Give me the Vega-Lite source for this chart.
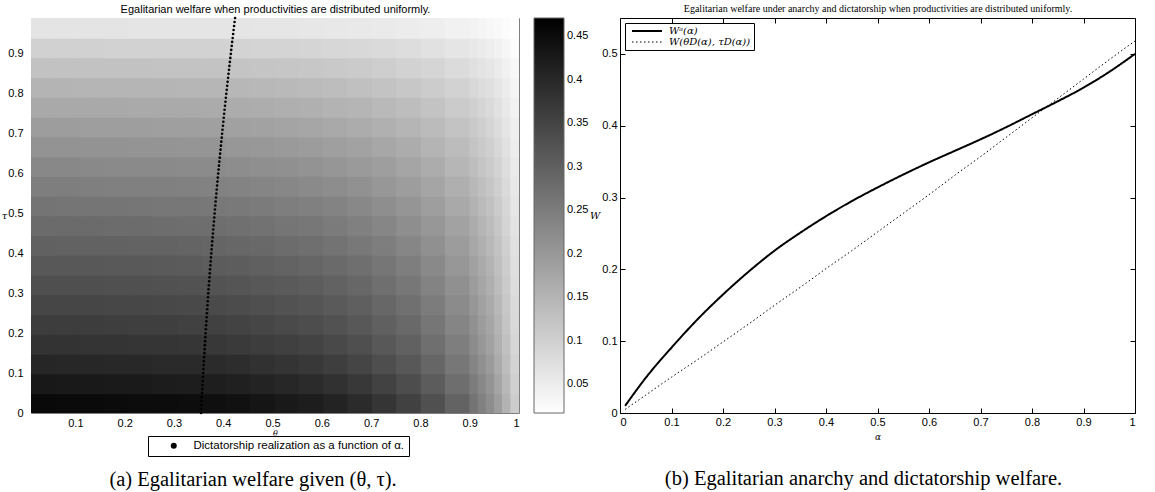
{
"$schema":"https://vega.github.io/schema/vega-lite/v6.json",
"background":"white",
"padding":{"left":0,"top":2,"right":0,"bottom":0},
"bounds":"flush",
"spacing":101,
"resolve":{"scale":{"color":"independent","shape":"independent","strokeDash":"independent","strokeWidth":"independent"},"legend":{"color":"independent","shape":"independent","strokeDash":"independent","strokeWidth":"independent"}},
"config":{"view":{"stroke":null},"axis":{"labelFont":"Liberation Sans","labelFontSize":11,"labelColor":"black","grid":false,"domain":false,"tickColor":"black"},"legend":{"labelFont":"Liberation Sans","labelColor":"black","labelLimit":400}},
"datasets":{
"hc":[
{"t":0.035,"u":0.025,"w":0.455},{"t":0.084,"u":0.025,"w":0.454},{"t":0.134,"u":0.025,"w":0.453},{"t":0.183,"u":0.025,"w":0.452},{"t":0.233,"u":0.025,"w":0.450},{"t":0.282,"u":0.025,"w":0.449},{"t":0.332,"u":0.025,"w":0.447},{"t":0.381,"u":0.025,"w":0.445},{"t":0.431,"u":0.025,"w":0.440},{"t":0.480,"u":0.025,"w":0.434},{"t":0.530,"u":0.025,"w":0.426},{"t":0.579,"u":0.025,"w":0.419},{"t":0.629,"u":0.025,"w":0.408},{"t":0.678,"u":0.025,"w":0.394},{"t":0.728,"u":0.025,"w":0.376},{"t":0.777,"u":0.025,"w":0.355},{"t":0.827,"u":0.025,"w":0.328},{"t":0.876,"u":0.025,"w":0.294},
{"t":0.035,"u":0.074,"w":0.428},{"t":0.084,"u":0.074,"w":0.427},{"t":0.134,"u":0.074,"w":0.426},{"t":0.183,"u":0.074,"w":0.425},{"t":0.233,"u":0.074,"w":0.424},{"t":0.282,"u":0.074,"w":0.422},{"t":0.332,"u":0.074,"w":0.420},{"t":0.381,"u":0.074,"w":0.418},{"t":0.431,"u":0.074,"w":0.414},{"t":0.480,"u":0.074,"w":0.408},{"t":0.530,"u":0.074,"w":0.401},{"t":0.579,"u":0.074,"w":0.394},{"t":0.629,"u":0.074,"w":0.383},{"t":0.678,"u":0.074,"w":0.371},{"t":0.728,"u":0.074,"w":0.354},{"t":0.777,"u":0.074,"w":0.334},{"t":0.827,"u":0.074,"w":0.308},{"t":0.876,"u":0.074,"w":0.276},
{"t":0.035,"u":0.124,"w":0.403},{"t":0.084,"u":0.124,"w":0.402},{"t":0.134,"u":0.124,"w":0.401},{"t":0.183,"u":0.124,"w":0.400},{"t":0.233,"u":0.124,"w":0.399},{"t":0.282,"u":0.124,"w":0.397},{"t":0.332,"u":0.124,"w":0.396},{"t":0.381,"u":0.124,"w":0.394},{"t":0.431,"u":0.124,"w":0.390},{"t":0.480,"u":0.124,"w":0.384},{"t":0.530,"u":0.124,"w":0.378},{"t":0.579,"u":0.124,"w":0.371},{"t":0.629,"u":0.124,"w":0.361},{"t":0.678,"u":0.124,"w":0.349},{"t":0.728,"u":0.124,"w":0.333},{"t":0.777,"u":0.124,"w":0.315},{"t":0.827,"u":0.124,"w":0.290},{"t":0.876,"u":0.124,"w":0.260},
{"t":0.035,"u":0.173,"w":0.381},{"t":0.084,"u":0.173,"w":0.380},{"t":0.134,"u":0.173,"w":0.379},{"t":0.183,"u":0.173,"w":0.378},{"t":0.233,"u":0.173,"w":0.377},{"t":0.282,"u":0.173,"w":0.376},{"t":0.332,"u":0.173,"w":0.374},{"t":0.381,"u":0.173,"w":0.372},{"t":0.431,"u":0.173,"w":0.368},{"t":0.480,"u":0.173,"w":0.363},{"t":0.530,"u":0.173,"w":0.357},{"t":0.579,"u":0.173,"w":0.351},{"t":0.629,"u":0.173,"w":0.341},{"t":0.678,"u":0.173,"w":0.330},{"t":0.728,"u":0.173,"w":0.315},{"t":0.777,"u":0.173,"w":0.298},{"t":0.827,"u":0.173,"w":0.274},{"t":0.876,"u":0.173,"w":0.246},
{"t":0.035,"u":0.223,"w":0.363},{"t":0.084,"u":0.223,"w":0.362},{"t":0.134,"u":0.223,"w":0.362},{"t":0.183,"u":0.223,"w":0.360},{"t":0.233,"u":0.223,"w":0.359},{"t":0.282,"u":0.223,"w":0.358},{"t":0.332,"u":0.223,"w":0.356},{"t":0.381,"u":0.223,"w":0.355},{"t":0.431,"u":0.223,"w":0.351},{"t":0.480,"u":0.223,"w":0.346},{"t":0.530,"u":0.223,"w":0.340},{"t":0.579,"u":0.223,"w":0.334},{"t":0.629,"u":0.223,"w":0.325},{"t":0.678,"u":0.223,"w":0.314},{"t":0.728,"u":0.223,"w":0.300},{"t":0.777,"u":0.223,"w":0.284},{"t":0.827,"u":0.223,"w":0.261},{"t":0.876,"u":0.223,"w":0.234},
{"t":0.035,"u":0.272,"w":0.347},{"t":0.084,"u":0.272,"w":0.346},{"t":0.134,"u":0.272,"w":0.346},{"t":0.183,"u":0.272,"w":0.345},{"t":0.233,"u":0.272,"w":0.344},{"t":0.282,"u":0.272,"w":0.342},{"t":0.332,"u":0.272,"w":0.341},{"t":0.381,"u":0.272,"w":0.339},{"t":0.431,"u":0.272,"w":0.336},{"t":0.480,"u":0.272,"w":0.331},{"t":0.530,"u":0.272,"w":0.325},{"t":0.579,"u":0.272,"w":0.319},{"t":0.629,"u":0.272,"w":0.311},{"t":0.678,"u":0.272,"w":0.301},{"t":0.728,"u":0.272,"w":0.287},{"t":0.777,"u":0.272,"w":0.271},{"t":0.827,"u":0.272,"w":0.250},{"t":0.876,"u":0.272,"w":0.224},
{"t":0.035,"u":0.322,"w":0.331},{"t":0.084,"u":0.322,"w":0.330},{"t":0.134,"u":0.322,"w":0.330},{"t":0.183,"u":0.322,"w":0.329},{"t":0.233,"u":0.322,"w":0.328},{"t":0.282,"u":0.322,"w":0.326},{"t":0.332,"u":0.322,"w":0.325},{"t":0.381,"u":0.322,"w":0.323},{"t":0.431,"u":0.322,"w":0.320},{"t":0.480,"u":0.322,"w":0.315},{"t":0.530,"u":0.322,"w":0.310},{"t":0.579,"u":0.322,"w":0.305},{"t":0.629,"u":0.322,"w":0.297},{"t":0.678,"u":0.322,"w":0.287},{"t":0.728,"u":0.322,"w":0.274},{"t":0.777,"u":0.322,"w":0.259},{"t":0.827,"u":0.322,"w":0.238},{"t":0.876,"u":0.322,"w":0.214},
{"t":0.035,"u":0.371,"w":0.315},{"t":0.084,"u":0.371,"w":0.314},{"t":0.134,"u":0.371,"w":0.314},{"t":0.183,"u":0.371,"w":0.313},{"t":0.233,"u":0.371,"w":0.312},{"t":0.282,"u":0.371,"w":0.311},{"t":0.332,"u":0.371,"w":0.309},{"t":0.381,"u":0.371,"w":0.308},{"t":0.431,"u":0.371,"w":0.305},{"t":0.480,"u":0.371,"w":0.300},{"t":0.530,"u":0.371,"w":0.295},{"t":0.579,"u":0.371,"w":0.290},{"t":0.629,"u":0.371,"w":0.282},{"t":0.678,"u":0.371,"w":0.273},{"t":0.728,"u":0.371,"w":0.261},{"t":0.777,"u":0.371,"w":0.246},{"t":0.827,"u":0.371,"w":0.227},{"t":0.876,"u":0.371,"w":0.203},
{"t":0.035,"u":0.421,"w":0.298},{"t":0.084,"u":0.421,"w":0.297},{"t":0.134,"u":0.421,"w":0.297},{"t":0.183,"u":0.421,"w":0.296},{"t":0.233,"u":0.421,"w":0.295},{"t":0.282,"u":0.421,"w":0.294},{"t":0.332,"u":0.421,"w":0.293},{"t":0.381,"u":0.421,"w":0.291},{"t":0.431,"u":0.421,"w":0.288},{"t":0.480,"u":0.421,"w":0.284},{"t":0.530,"u":0.421,"w":0.279},{"t":0.579,"u":0.421,"w":0.274},{"t":0.629,"u":0.421,"w":0.267},{"t":0.678,"u":0.421,"w":0.258},{"t":0.728,"u":0.421,"w":0.246},{"t":0.777,"u":0.421,"w":0.233},{"t":0.827,"u":0.421,"w":0.215},{"t":0.876,"u":0.421,"w":0.193},
{"t":0.035,"u":0.470,"w":0.281},{"t":0.084,"u":0.470,"w":0.280},{"t":0.134,"u":0.470,"w":0.280},{"t":0.183,"u":0.470,"w":0.279},{"t":0.233,"u":0.470,"w":0.278},{"t":0.282,"u":0.470,"w":0.277},{"t":0.332,"u":0.470,"w":0.276},{"t":0.381,"u":0.470,"w":0.275},{"t":0.431,"u":0.470,"w":0.272},{"t":0.480,"u":0.470,"w":0.268},{"t":0.530,"u":0.470,"w":0.263},{"t":0.579,"u":0.470,"w":0.259},{"t":0.629,"u":0.470,"w":0.252},{"t":0.678,"u":0.470,"w":0.243},{"t":0.728,"u":0.470,"w":0.232},{"t":0.777,"u":0.470,"w":0.219},{"t":0.827,"u":0.470,"w":0.202},{"t":0.876,"u":0.470,"w":0.182},
{"t":0.035,"u":0.520,"w":0.264},{"t":0.084,"u":0.520,"w":0.263},{"t":0.134,"u":0.520,"w":0.263},{"t":0.183,"u":0.520,"w":0.262},{"t":0.233,"u":0.520,"w":0.261},{"t":0.282,"u":0.520,"w":0.260},{"t":0.332,"u":0.520,"w":0.259},{"t":0.381,"u":0.520,"w":0.258},{"t":0.431,"u":0.520,"w":0.255},{"t":0.480,"u":0.520,"w":0.252},{"t":0.530,"u":0.520,"w":0.247},{"t":0.579,"u":0.520,"w":0.243},{"t":0.629,"u":0.520,"w":0.237},{"t":0.678,"u":0.520,"w":0.229},{"t":0.728,"u":0.520,"w":0.218},{"t":0.777,"u":0.520,"w":0.206},{"t":0.827,"u":0.520,"w":0.190},{"t":0.876,"u":0.520,"w":0.171},
{"t":0.035,"u":0.569,"w":0.246},{"t":0.084,"u":0.569,"w":0.246},{"t":0.134,"u":0.569,"w":0.245},{"t":0.183,"u":0.569,"w":0.244},{"t":0.233,"u":0.569,"w":0.244},{"t":0.282,"u":0.569,"w":0.243},{"t":0.332,"u":0.569,"w":0.242},{"t":0.381,"u":0.569,"w":0.240},{"t":0.431,"u":0.569,"w":0.238},{"t":0.480,"u":0.569,"w":0.234},{"t":0.530,"u":0.569,"w":0.231},{"t":0.579,"u":0.569,"w":0.226},{"t":0.629,"u":0.569,"w":0.220},{"t":0.678,"u":0.569,"w":0.213},{"t":0.728,"u":0.569,"w":0.203},{"t":0.777,"u":0.569,"w":0.192},{"t":0.827,"u":0.569,"w":0.177},{"t":0.876,"u":0.569,"w":0.159},
{"t":0.035,"u":0.619,"w":0.228},{"t":0.084,"u":0.619,"w":0.228},{"t":0.134,"u":0.619,"w":0.227},{"t":0.183,"u":0.619,"w":0.226},{"t":0.233,"u":0.619,"w":0.226},{"t":0.282,"u":0.619,"w":0.225},{"t":0.332,"u":0.619,"w":0.224},{"t":0.381,"u":0.619,"w":0.223},{"t":0.431,"u":0.619,"w":0.220},{"t":0.480,"u":0.619,"w":0.217},{"t":0.530,"u":0.619,"w":0.214},{"t":0.579,"u":0.619,"w":0.210},{"t":0.629,"u":0.619,"w":0.204},{"t":0.678,"u":0.619,"w":0.197},{"t":0.728,"u":0.619,"w":0.189},{"t":0.777,"u":0.619,"w":0.178},{"t":0.827,"u":0.619,"w":0.164},{"t":0.876,"u":0.619,"w":0.147},
{"t":0.035,"u":0.668,"w":0.210},{"t":0.084,"u":0.668,"w":0.210},{"t":0.134,"u":0.668,"w":0.209},{"t":0.183,"u":0.668,"w":0.209},{"t":0.233,"u":0.668,"w":0.208},{"t":0.282,"u":0.668,"w":0.207},{"t":0.332,"u":0.668,"w":0.206},{"t":0.381,"u":0.668,"w":0.205},{"t":0.431,"u":0.668,"w":0.203},{"t":0.480,"u":0.668,"w":0.200},{"t":0.530,"u":0.668,"w":0.197},{"t":0.579,"u":0.668,"w":0.193},{"t":0.629,"u":0.668,"w":0.188},{"t":0.678,"u":0.668,"w":0.182},{"t":0.728,"u":0.668,"w":0.174},{"t":0.777,"u":0.668,"w":0.164},{"t":0.827,"u":0.668,"w":0.151},{"t":0.876,"u":0.668,"w":0.136},
{"t":0.035,"u":0.718,"w":0.191},{"t":0.084,"u":0.718,"w":0.191},{"t":0.134,"u":0.718,"w":0.190},{"t":0.183,"u":0.718,"w":0.190},{"t":0.233,"u":0.718,"w":0.189},{"t":0.282,"u":0.718,"w":0.188},{"t":0.332,"u":0.718,"w":0.188},{"t":0.381,"u":0.718,"w":0.187},{"t":0.431,"u":0.718,"w":0.185},{"t":0.480,"u":0.718,"w":0.182},{"t":0.530,"u":0.718,"w":0.179},{"t":0.579,"u":0.718,"w":0.176},{"t":0.629,"u":0.718,"w":0.171},{"t":0.678,"u":0.718,"w":0.165},{"t":0.728,"u":0.718,"w":0.158},{"t":0.777,"u":0.718,"w":0.149},{"t":0.827,"u":0.718,"w":0.138},{"t":0.876,"u":0.718,"w":0.123},
{"t":0.035,"u":0.767,"w":0.171},{"t":0.084,"u":0.767,"w":0.171},{"t":0.134,"u":0.767,"w":0.170},{"t":0.183,"u":0.767,"w":0.170},{"t":0.233,"u":0.767,"w":0.169},{"t":0.282,"u":0.767,"w":0.169},{"t":0.332,"u":0.767,"w":0.168},{"t":0.381,"u":0.767,"w":0.167},{"t":0.431,"u":0.767,"w":0.165},{"t":0.480,"u":0.767,"w":0.163},{"t":0.530,"u":0.767,"w":0.160},{"t":0.579,"u":0.767,"w":0.157},{"t":0.629,"u":0.767,"w":0.153},{"t":0.678,"u":0.767,"w":0.148},{"t":0.728,"u":0.767,"w":0.141},{"t":0.777,"u":0.767,"w":0.134},{"t":0.827,"u":0.767,"w":0.123},{"t":0.876,"u":0.767,"w":0.110},
{"t":0.035,"u":0.817,"w":0.150},{"t":0.084,"u":0.817,"w":0.150},{"t":0.134,"u":0.817,"w":0.149},{"t":0.183,"u":0.817,"w":0.149},{"t":0.233,"u":0.817,"w":0.149},{"t":0.282,"u":0.817,"w":0.148},{"t":0.332,"u":0.817,"w":0.147},{"t":0.381,"u":0.817,"w":0.147},{"t":0.431,"u":0.817,"w":0.145},{"t":0.480,"u":0.817,"w":0.143},{"t":0.530,"u":0.817,"w":0.141},{"t":0.579,"u":0.817,"w":0.138},{"t":0.629,"u":0.817,"w":0.134},{"t":0.678,"u":0.817,"w":0.130},{"t":0.728,"u":0.817,"w":0.124},{"t":0.777,"u":0.817,"w":0.117},{"t":0.827,"u":0.817,"w":0.108},{"t":0.876,"u":0.817,"w":0.097},
{"t":0.035,"u":0.866,"w":0.126},{"t":0.084,"u":0.866,"w":0.126},{"t":0.134,"u":0.866,"w":0.126},{"t":0.183,"u":0.866,"w":0.125},{"t":0.233,"u":0.866,"w":0.125},{"t":0.282,"u":0.866,"w":0.124},{"t":0.332,"u":0.866,"w":0.124},{"t":0.381,"u":0.866,"w":0.123},{"t":0.431,"u":0.866,"w":0.122},{"t":0.480,"u":0.866,"w":0.120},{"t":0.530,"u":0.866,"w":0.118},{"t":0.579,"u":0.866,"w":0.116},{"t":0.629,"u":0.866,"w":0.113},{"t":0.678,"u":0.866,"w":0.109},{"t":0.728,"u":0.866,"w":0.104},{"t":0.777,"u":0.866,"w":0.098},{"t":0.827,"u":0.866,"w":0.091},{"t":0.876,"u":0.866,"w":0.081},
{"t":0.035,"u":0.916,"w":0.099},{"t":0.084,"u":0.916,"w":0.099},{"t":0.134,"u":0.916,"w":0.099},{"t":0.183,"u":0.916,"w":0.098},{"t":0.233,"u":0.916,"w":0.098},{"t":0.282,"u":0.916,"w":0.098},{"t":0.332,"u":0.916,"w":0.097},{"t":0.381,"u":0.916,"w":0.097},{"t":0.431,"u":0.916,"w":0.096},{"t":0.480,"u":0.916,"w":0.094},{"t":0.530,"u":0.916,"w":0.093},{"t":0.579,"u":0.916,"w":0.091},{"t":0.629,"u":0.916,"w":0.089},{"t":0.678,"u":0.916,"w":0.086},{"t":0.728,"u":0.916,"w":0.082},{"t":0.777,"u":0.916,"w":0.077},{"t":0.827,"u":0.916,"w":0.071},{"t":0.876,"u":0.916,"w":0.064},
{"t":0.035,"u":0.965,"w":0.065},{"t":0.084,"u":0.965,"w":0.065},{"t":0.134,"u":0.965,"w":0.065},{"t":0.183,"u":0.965,"w":0.065},{"t":0.233,"u":0.965,"w":0.064},{"t":0.282,"u":0.965,"w":0.064},{"t":0.332,"u":0.965,"w":0.064},{"t":0.381,"u":0.965,"w":0.064},{"t":0.431,"u":0.965,"w":0.063},{"t":0.480,"u":0.965,"w":0.062},{"t":0.530,"u":0.965,"w":0.061},{"t":0.579,"u":0.965,"w":0.060},{"t":0.629,"u":0.965,"w":0.058},{"t":0.678,"u":0.965,"w":0.056},{"t":0.728,"u":0.965,"w":0.054},{"t":0.777,"u":0.965,"w":0.051},{"t":0.827,"u":0.965,"w":0.047},{"t":0.876,"u":0.965,"w":0.042}
],
"hf":[
{"t":0.909,"u":0.025,"w":0.265},{"t":0.926,"u":0.025,"w":0.242},{"t":0.942,"u":0.025,"w":0.220},{"t":0.959,"u":0.025,"w":0.189},{"t":0.975,"u":0.025,"w":0.152},{"t":0.992,"u":0.025,"w":0.107},
{"t":0.909,"u":0.074,"w":0.250},{"t":0.926,"u":0.074,"w":0.228},{"t":0.942,"u":0.074,"w":0.207},{"t":0.959,"u":0.074,"w":0.178},{"t":0.975,"u":0.074,"w":0.143},{"t":0.992,"u":0.074,"w":0.101},
{"t":0.909,"u":0.124,"w":0.235},{"t":0.926,"u":0.124,"w":0.214},{"t":0.942,"u":0.124,"w":0.195},{"t":0.959,"u":0.124,"w":0.167},{"t":0.975,"u":0.124,"w":0.135},{"t":0.992,"u":0.124,"w":0.095},
{"t":0.909,"u":0.173,"w":0.222},{"t":0.926,"u":0.173,"w":0.203},{"t":0.942,"u":0.173,"w":0.184},{"t":0.959,"u":0.173,"w":0.158},{"t":0.975,"u":0.173,"w":0.128},{"t":0.992,"u":0.173,"w":0.090},
{"t":0.909,"u":0.223,"w":0.212},{"t":0.926,"u":0.223,"w":0.193},{"t":0.942,"u":0.223,"w":0.176},{"t":0.959,"u":0.223,"w":0.151},{"t":0.975,"u":0.223,"w":0.122},{"t":0.992,"u":0.223,"w":0.085},
{"t":0.909,"u":0.272,"w":0.202},{"t":0.926,"u":0.272,"w":0.185},{"t":0.942,"u":0.272,"w":0.168},{"t":0.959,"u":0.272,"w":0.144},{"t":0.975,"u":0.272,"w":0.116},{"t":0.992,"u":0.272,"w":0.082},
{"t":0.909,"u":0.322,"w":0.193},{"t":0.926,"u":0.322,"w":0.176},{"t":0.942,"u":0.322,"w":0.160},{"t":0.959,"u":0.322,"w":0.137},{"t":0.975,"u":0.322,"w":0.111},{"t":0.992,"u":0.322,"w":0.078},
{"t":0.909,"u":0.371,"w":0.184},{"t":0.926,"u":0.371,"w":0.168},{"t":0.942,"u":0.371,"w":0.152},{"t":0.959,"u":0.371,"w":0.131},{"t":0.975,"u":0.371,"w":0.106},{"t":0.992,"u":0.371,"w":0.074},
{"t":0.909,"u":0.421,"w":0.174},{"t":0.926,"u":0.421,"w":0.159},{"t":0.942,"u":0.421,"w":0.144},{"t":0.959,"u":0.421,"w":0.124},{"t":0.975,"u":0.421,"w":0.100},{"t":0.992,"u":0.421,"w":0.070},
{"t":0.909,"u":0.470,"w":0.164},{"t":0.926,"u":0.470,"w":0.149},{"t":0.942,"u":0.470,"w":0.136},{"t":0.959,"u":0.470,"w":0.117},{"t":0.975,"u":0.470,"w":0.094},{"t":0.992,"u":0.470,"w":0.066},
{"t":0.909,"u":0.520,"w":0.154},{"t":0.926,"u":0.520,"w":0.140},{"t":0.942,"u":0.520,"w":0.128},{"t":0.959,"u":0.520,"w":0.110},{"t":0.975,"u":0.520,"w":0.088},{"t":0.992,"u":0.520,"w":0.062},
{"t":0.909,"u":0.569,"w":0.143},{"t":0.926,"u":0.569,"w":0.131},{"t":0.942,"u":0.569,"w":0.119},{"t":0.959,"u":0.569,"w":0.102},{"t":0.975,"u":0.569,"w":0.082},{"t":0.992,"u":0.569,"w":0.058},
{"t":0.909,"u":0.619,"w":0.133},{"t":0.926,"u":0.619,"w":0.121},{"t":0.942,"u":0.619,"w":0.110},{"t":0.959,"u":0.619,"w":0.095},{"t":0.975,"u":0.619,"w":0.076},{"t":0.992,"u":0.619,"w":0.054},
{"t":0.909,"u":0.668,"w":0.122},{"t":0.926,"u":0.668,"w":0.112},{"t":0.942,"u":0.668,"w":0.102},{"t":0.959,"u":0.668,"w":0.087},{"t":0.975,"u":0.668,"w":0.070},{"t":0.992,"u":0.668,"w":0.049},
{"t":0.909,"u":0.718,"w":0.111},{"t":0.926,"u":0.718,"w":0.102},{"t":0.942,"u":0.718,"w":0.092},{"t":0.959,"u":0.718,"w":0.079},{"t":0.975,"u":0.718,"w":0.064},{"t":0.992,"u":0.718,"w":0.045},
{"t":0.909,"u":0.767,"w":0.100},{"t":0.926,"u":0.767,"w":0.091},{"t":0.942,"u":0.767,"w":0.083},{"t":0.959,"u":0.767,"w":0.071},{"t":0.975,"u":0.767,"w":0.057},{"t":0.992,"u":0.767,"w":0.040},
{"t":0.909,"u":0.817,"w":0.087},{"t":0.926,"u":0.817,"w":0.080},{"t":0.942,"u":0.817,"w":0.073},{"t":0.959,"u":0.817,"w":0.062},{"t":0.975,"u":0.817,"w":0.050},{"t":0.992,"u":0.817,"w":0.035},
{"t":0.909,"u":0.866,"w":0.073},{"t":0.926,"u":0.866,"w":0.067},{"t":0.942,"u":0.866,"w":0.061},{"t":0.959,"u":0.866,"w":0.052},{"t":0.975,"u":0.866,"w":0.042},{"t":0.992,"u":0.866,"w":0.030},
{"t":0.909,"u":0.916,"w":0.058},{"t":0.926,"u":0.916,"w":0.053},{"t":0.942,"u":0.916,"w":0.048},{"t":0.959,"u":0.916,"w":0.041},{"t":0.975,"u":0.916,"w":0.033},{"t":0.992,"u":0.916,"w":0.023},
{"t":0.909,"u":0.965,"w":0.038},{"t":0.926,"u":0.965,"w":0.035},{"t":0.942,"u":0.965,"w":0.031},{"t":0.959,"u":0.965,"w":0.027},{"t":0.975,"u":0.965,"w":0.022},{"t":0.992,"u":0.965,"w":0.015}
],
"dict":[
{"t":0.3550,"u":0.00},{"t":0.3554,"u":0.01},{"t":0.3558,"u":0.02},{"t":0.3562,"u":0.03},{"t":0.3566,"u":0.04},{"t":0.3571,"u":0.05},{"t":0.3575,"u":0.06},{"t":0.3579,"u":0.07},{"t":0.3584,"u":0.08},{"t":0.3588,"u":0.09},
{"t":0.3593,"u":0.10},{"t":0.3598,"u":0.11},{"t":0.3602,"u":0.12},{"t":0.3607,"u":0.13},{"t":0.3612,"u":0.14},{"t":0.3617,"u":0.15},{"t":0.3622,"u":0.16},{"t":0.3627,"u":0.17},{"t":0.3632,"u":0.18},{"t":0.3637,"u":0.19},
{"t":0.3642,"u":0.20},{"t":0.3647,"u":0.21},{"t":0.3653,"u":0.22},{"t":0.3658,"u":0.23},{"t":0.3663,"u":0.24},{"t":0.3669,"u":0.25},{"t":0.3674,"u":0.26},{"t":0.3680,"u":0.27},{"t":0.3686,"u":0.28},{"t":0.3691,"u":0.29},
{"t":0.3697,"u":0.30},{"t":0.3703,"u":0.31},{"t":0.3709,"u":0.32},{"t":0.3715,"u":0.33},{"t":0.3721,"u":0.34},{"t":0.3727,"u":0.35},{"t":0.3733,"u":0.36},{"t":0.3739,"u":0.37},{"t":0.3745,"u":0.38},{"t":0.3752,"u":0.39},
{"t":0.3758,"u":0.40},{"t":0.3764,"u":0.41},{"t":0.3771,"u":0.42},{"t":0.3777,"u":0.43},{"t":0.3784,"u":0.44},{"t":0.3791,"u":0.45},{"t":0.3797,"u":0.46},{"t":0.3804,"u":0.47},{"t":0.3811,"u":0.48},{"t":0.3818,"u":0.49},
{"t":0.3825,"u":0.50},{"t":0.3832,"u":0.51},{"t":0.3839,"u":0.52},{"t":0.3846,"u":0.53},{"t":0.3853,"u":0.54},{"t":0.3861,"u":0.55},{"t":0.3868,"u":0.56},{"t":0.3875,"u":0.57},{"t":0.3883,"u":0.58},{"t":0.3890,"u":0.59},
{"t":0.3898,"u":0.60},{"t":0.3906,"u":0.61},{"t":0.3913,"u":0.62},{"t":0.3921,"u":0.63},{"t":0.3929,"u":0.64},{"t":0.3937,"u":0.65},{"t":0.3945,"u":0.66},{"t":0.3953,"u":0.67},{"t":0.3961,"u":0.68},{"t":0.3969,"u":0.69},
{"t":0.3977,"u":0.70},{"t":0.3985,"u":0.71},{"t":0.3994,"u":0.72},{"t":0.4002,"u":0.73},{"t":0.4010,"u":0.74},{"t":0.4019,"u":0.75},{"t":0.4027,"u":0.76},{"t":0.4036,"u":0.77},{"t":0.4045,"u":0.78},{"t":0.4053,"u":0.79},
{"t":0.4062,"u":0.80},{"t":0.4071,"u":0.81},{"t":0.4080,"u":0.82},{"t":0.4089,"u":0.83},{"t":0.4098,"u":0.84},{"t":0.4107,"u":0.85},{"t":0.4116,"u":0.86},{"t":0.4125,"u":0.87},{"t":0.4134,"u":0.88},{"t":0.4144,"u":0.89},
{"t":0.4153,"u":0.90},{"t":0.4162,"u":0.91},{"t":0.4172,"u":0.92},{"t":0.4181,"u":0.93},{"t":0.4191,"u":0.94},{"t":0.4201,"u":0.95},{"t":0.4210,"u":0.96},{"t":0.4220,"u":0.97},{"t":0.4230,"u":0.98},{"t":0.4240,"u":0.99}
],
"lines":[
{"a":0.01,"w":0.010,"s":"Wᵃ(α)"},{"a":0.05,"w":0.049,"s":"Wᵃ(α)"},{"a":0.10,"w":0.091,"s":"Wᵃ(α)"},{"a":0.15,"w":0.130,"s":"Wᵃ(α)"},{"a":0.20,"w":0.165,"s":"Wᵃ(α)"},{"a":0.25,"w":0.197,"s":"Wᵃ(α)"},{"a":0.30,"w":0.226,"s":"Wᵃ(α)"},{"a":0.35,"w":0.251,"s":"Wᵃ(α)"},{"a":0.40,"w":0.274,"s":"Wᵃ(α)"},{"a":0.45,"w":0.295,"s":"Wᵃ(α)"},{"a":0.50,"w":0.314,"s":"Wᵃ(α)"},{"a":0.55,"w":0.332,"s":"Wᵃ(α)"},{"a":0.60,"w":0.349,"s":"Wᵃ(α)"},{"a":0.65,"w":0.365,"s":"Wᵃ(α)"},{"a":0.70,"w":0.381,"s":"Wᵃ(α)"},{"a":0.75,"w":0.398,"s":"Wᵃ(α)"},{"a":0.80,"w":0.416,"s":"Wᵃ(α)"},{"a":0.85,"w":0.434,"s":"Wᵃ(α)"},{"a":0.90,"w":0.453,"s":"Wᵃ(α)"},{"a":0.95,"w":0.475,"s":"Wᵃ(α)"},{"a":1.00,"w":0.500,"s":"Wᵃ(α)"},
{"a":0.01,"w":0.005,"s":"W(θD(α), τD(α))"},{"a":0.05,"w":0.025,"s":"W(θD(α), τD(α))"},{"a":0.10,"w":0.050,"s":"W(θD(α), τD(α))"},{"a":0.15,"w":0.074,"s":"W(θD(α), τD(α))"},{"a":0.20,"w":0.099,"s":"W(θD(α), τD(α))"},{"a":0.25,"w":0.124,"s":"W(θD(α), τD(α))"},{"a":0.30,"w":0.150,"s":"W(θD(α), τD(α))"},{"a":0.35,"w":0.175,"s":"W(θD(α), τD(α))"},{"a":0.40,"w":0.201,"s":"W(θD(α), τD(α))"},{"a":0.45,"w":0.226,"s":"W(θD(α), τD(α))"},{"a":0.50,"w":0.252,"s":"W(θD(α), τD(α))"},{"a":0.55,"w":0.278,"s":"W(θD(α), τD(α))"},{"a":0.60,"w":0.304,"s":"W(θD(α), τD(α))"},{"a":0.65,"w":0.331,"s":"W(θD(α), τD(α))"},{"a":0.70,"w":0.357,"s":"W(θD(α), τD(α))"},{"a":0.75,"w":0.384,"s":"W(θD(α), τD(α))"},{"a":0.80,"w":0.411,"s":"W(θD(α), τD(α))"},{"a":0.85,"w":0.438,"s":"W(θD(α), τD(α))"},{"a":0.90,"w":0.465,"s":"W(θD(α), τD(α))"},{"a":0.95,"w":0.492,"s":"W(θD(α), τD(α))"},{"a":1.00,"w":0.518,"s":"W(θD(α), τD(α))"}
]
},
"hconcat":[
{
"width":488,"height":395,
"view":{"stroke":"#7f7f7f","strokeWidth":1},
"title":{"text":"(a) Egalitarian welfare given (θ, τ).","orient":"bottom","anchor":"middle","font":"Liberation Serif","fontSize":20.5,"fontWeight":"normal","color":"black","offset":13,"dx":-22},
"layer":[
{"data":{"name":"hc"},"mark":{"type":"rect","width":26,"height":21.5,"clip":true},
"encoding":{
"x":{"field":"t","type":"quantitative","scale":{"domain":[0.01,1],"nice":false,"zero":false},"axis":{"orient":"bottom","values":[0.1,0.2,0.3,0.4,0.5,0.6,0.7,0.8,0.9,1],"format":"~g","ticks":false,"labelPadding":4,"title":"θ","titleFont":"DejaVu Serif","titleFontStyle":"italic","titleFontWeight":"normal","titleFontSize":8,"titlePadding":1}},
"y":{"field":"u","type":"quantitative","scale":{"domain":[0,0.99],"nice":false,"zero":false},"axis":{"orient":"left","values":[0,0.1,0.2,0.3,0.4,0.5,0.6,0.7,0.8,0.9],"format":"~g","ticks":false,"labelPadding":8,"title":"τ","titleAngle":0,"titleAlign":"right","titleBaseline":"middle","titleFont":"DejaVu Serif","titleFontStyle":"italic","titleFontWeight":"normal","titleFontSize":10,"titlePadding":1}},
"color":{"field":"w","type":"quantitative","scale":{"domain":[0.017,0.471],"range":["#ffffff","#000000"],"clamp":true,"interpolate":"rgb"},"legend":{"orient":"none","legendX":503,"legendY":0,"direction":"vertical","gradientLength":395,"gradientThickness":30,"gradientStrokeColor":"#666666","gradientStrokeWidth":1,"values":[0.05,0.1,0.15,0.2,0.25,0.3,0.35,0.4,0.45],"labelExpr":"format(datum.value, '.2~f')","labelFontSize":11,"labelOverlap":false,"labelOffset":3,"title":null}}
}},
{"data":{"name":"hf"},"mark":{"type":"rect","width":9.5,"height":21.5,"clip":true},
"encoding":{
"x":{"field":"t","type":"quantitative","scale":{"domain":[0.01,1],"nice":false,"zero":false},"axis":null},
"y":{"field":"u","type":"quantitative","scale":{"domain":[0,0.99],"nice":false,"zero":false},"axis":null},
"color":{"field":"w","type":"quantitative","scale":{"domain":[0.017,0.471],"range":["#ffffff","#000000"],"clamp":true,"interpolate":"rgb"},"legend":{"orient":"none","legendX":503,"legendY":0,"direction":"vertical","gradientLength":395,"gradientThickness":30,"gradientStrokeColor":"#666666","gradientStrokeWidth":1,"values":[0.05,0.1,0.15,0.2,0.25,0.3,0.35,0.4,0.45],"labelExpr":"format(datum.value, '.2~f')","labelFontSize":11,"labelOverlap":false,"labelOffset":3,"title":null}}
}},
{"data":{"name":"dict"},"mark":{"type":"point","filled":true,"color":"black","size":7,"opacity":1},
"encoding":{
"x":{"field":"t","type":"quantitative","scale":{"domain":[0.01,1],"nice":false,"zero":false},"axis":{"orient":"top","labels":false,"ticks":false,"domain":false,"title":"Egalitarian welfare when productivities are distributed uniformly.","titleFont":"Liberation Sans","titleFontSize":11,"titleFontWeight":"normal","titleColor":"black","titlePadding":4}},
"y":{"field":"u","type":"quantitative","scale":{"domain":[0,0.99],"nice":false,"zero":false},"axis":null},
"shape":{"datum":"Dictatorship realization as a function of α.","type":"nominal","scale":{"range":["circle"]},"legend":{"orient":"none","legendX":117,"legendY":418,"title":null,"strokeColor":"black","fillColor":"white","padding":4,"symbolSize":36,"symbolFillColor":"black","symbolStrokeColor":"black","symbolOffset":16,"labelOffset":14,"labelFontSize":11.5,"labelLimit":400}}
}}
],
"resolve":{"axis":{"x":"independent","y":"independent"}}
},
{
"width":515,"height":395,
"view":{"stroke":"black","strokeWidth":1},
"title":{"text":"(b) Egalitarian anarchy and dictatorship welfare.","orient":"bottom","anchor":"middle","font":"Liberation Serif","fontSize":20.5,"fontWeight":"normal","color":"black","offset":28,"dx":-14},
"data":{"name":"lines"},
"layer":[
{"mark":{"type":"line","color":"black","interpolate":"monotone"},
"encoding":{
"x":{"field":"a","type":"quantitative","scale":{"domain":[0,1],"nice":false},"axis":{"orient":"bottom","values":[0,0.1,0.2,0.3,0.4,0.5,0.6,0.7,0.8,0.9,1],"format":"~g","tickSize":-5,"labelPadding":8,"title":"α","titleFont":"DejaVu Serif","titleFontStyle":"italic","titleFontWeight":"normal","titleFontSize":9,"titlePadding":5}},
"y":{"field":"w","type":"quantitative","scale":{"domain":[0,0.55],"nice":false},"axis":{"orient":"left","values":[0,0.1,0.2,0.3,0.4,0.5],"format":"~g","tickSize":-5,"labelPadding":8,"title":"W","titleAngle":0,"titleAlign":"right","titleBaseline":"middle","titleFont":"DejaVu Serif","titleFontStyle":"italic","titleFontWeight":"normal","titleFontSize":10,"titlePadding":2}},
"strokeDash":{"field":"s","type":"ordinal","scale":{"domain":["Wᵃ(α)","W(θD(α), τD(α))"],"range":[[1,0],[1.5,2.5]]},"legend":{"orient":"top-left","offset":5,"title":null,"strokeColor":"black","fillColor":"white","padding":3,"symbolType":"M-5,0H5","symbolSize":36,"symbolOffset":14,"labelOffset":17,"symbolStrokeColor":"black","labelFont":"DejaVu Serif","labelFontStyle":"italic","labelFontSize":10,"rowPadding":1}},
"strokeWidth":{"field":"s","type":"ordinal","scale":{"domain":["Wᵃ(α)","W(θD(α), τD(α))"],"range":[2,1]},"legend":{"orient":"top-left","offset":5,"title":null,"strokeColor":"black","fillColor":"white","padding":3,"symbolType":"M-5,0H5","symbolSize":36,"symbolOffset":14,"labelOffset":17,"symbolStrokeColor":"black","labelFont":"DejaVu Serif","labelFontStyle":"italic","labelFontSize":10,"rowPadding":1}}
}},
{"mark":{"type":"line","opacity":0},
"encoding":{
"x":{"field":"a","type":"quantitative","scale":{"domain":[0,1],"nice":false},"axis":{"orient":"top","values":[0,0.1,0.2,0.3,0.4,0.5,0.6,0.7,0.8,0.9,1],"labels":false,"tickSize":-5,"title":"Egalitarian welfare under anarchy and dictatorship when productivities are distributed uniformly.","titleFont":"Liberation Serif","titleFontSize":10,"titleFontWeight":"normal","titleColor":"black","titlePadding":4}},
"y":{"field":"w","type":"quantitative","scale":{"domain":[0,0.55],"nice":false},"axis":{"orient":"right","values":[0,0.1,0.2,0.3,0.4,0.5],"labels":false,"tickSize":-5,"title":null}}
}}
],
"resolve":{"axis":{"x":"independent","y":"independent"}}
}
]
}
